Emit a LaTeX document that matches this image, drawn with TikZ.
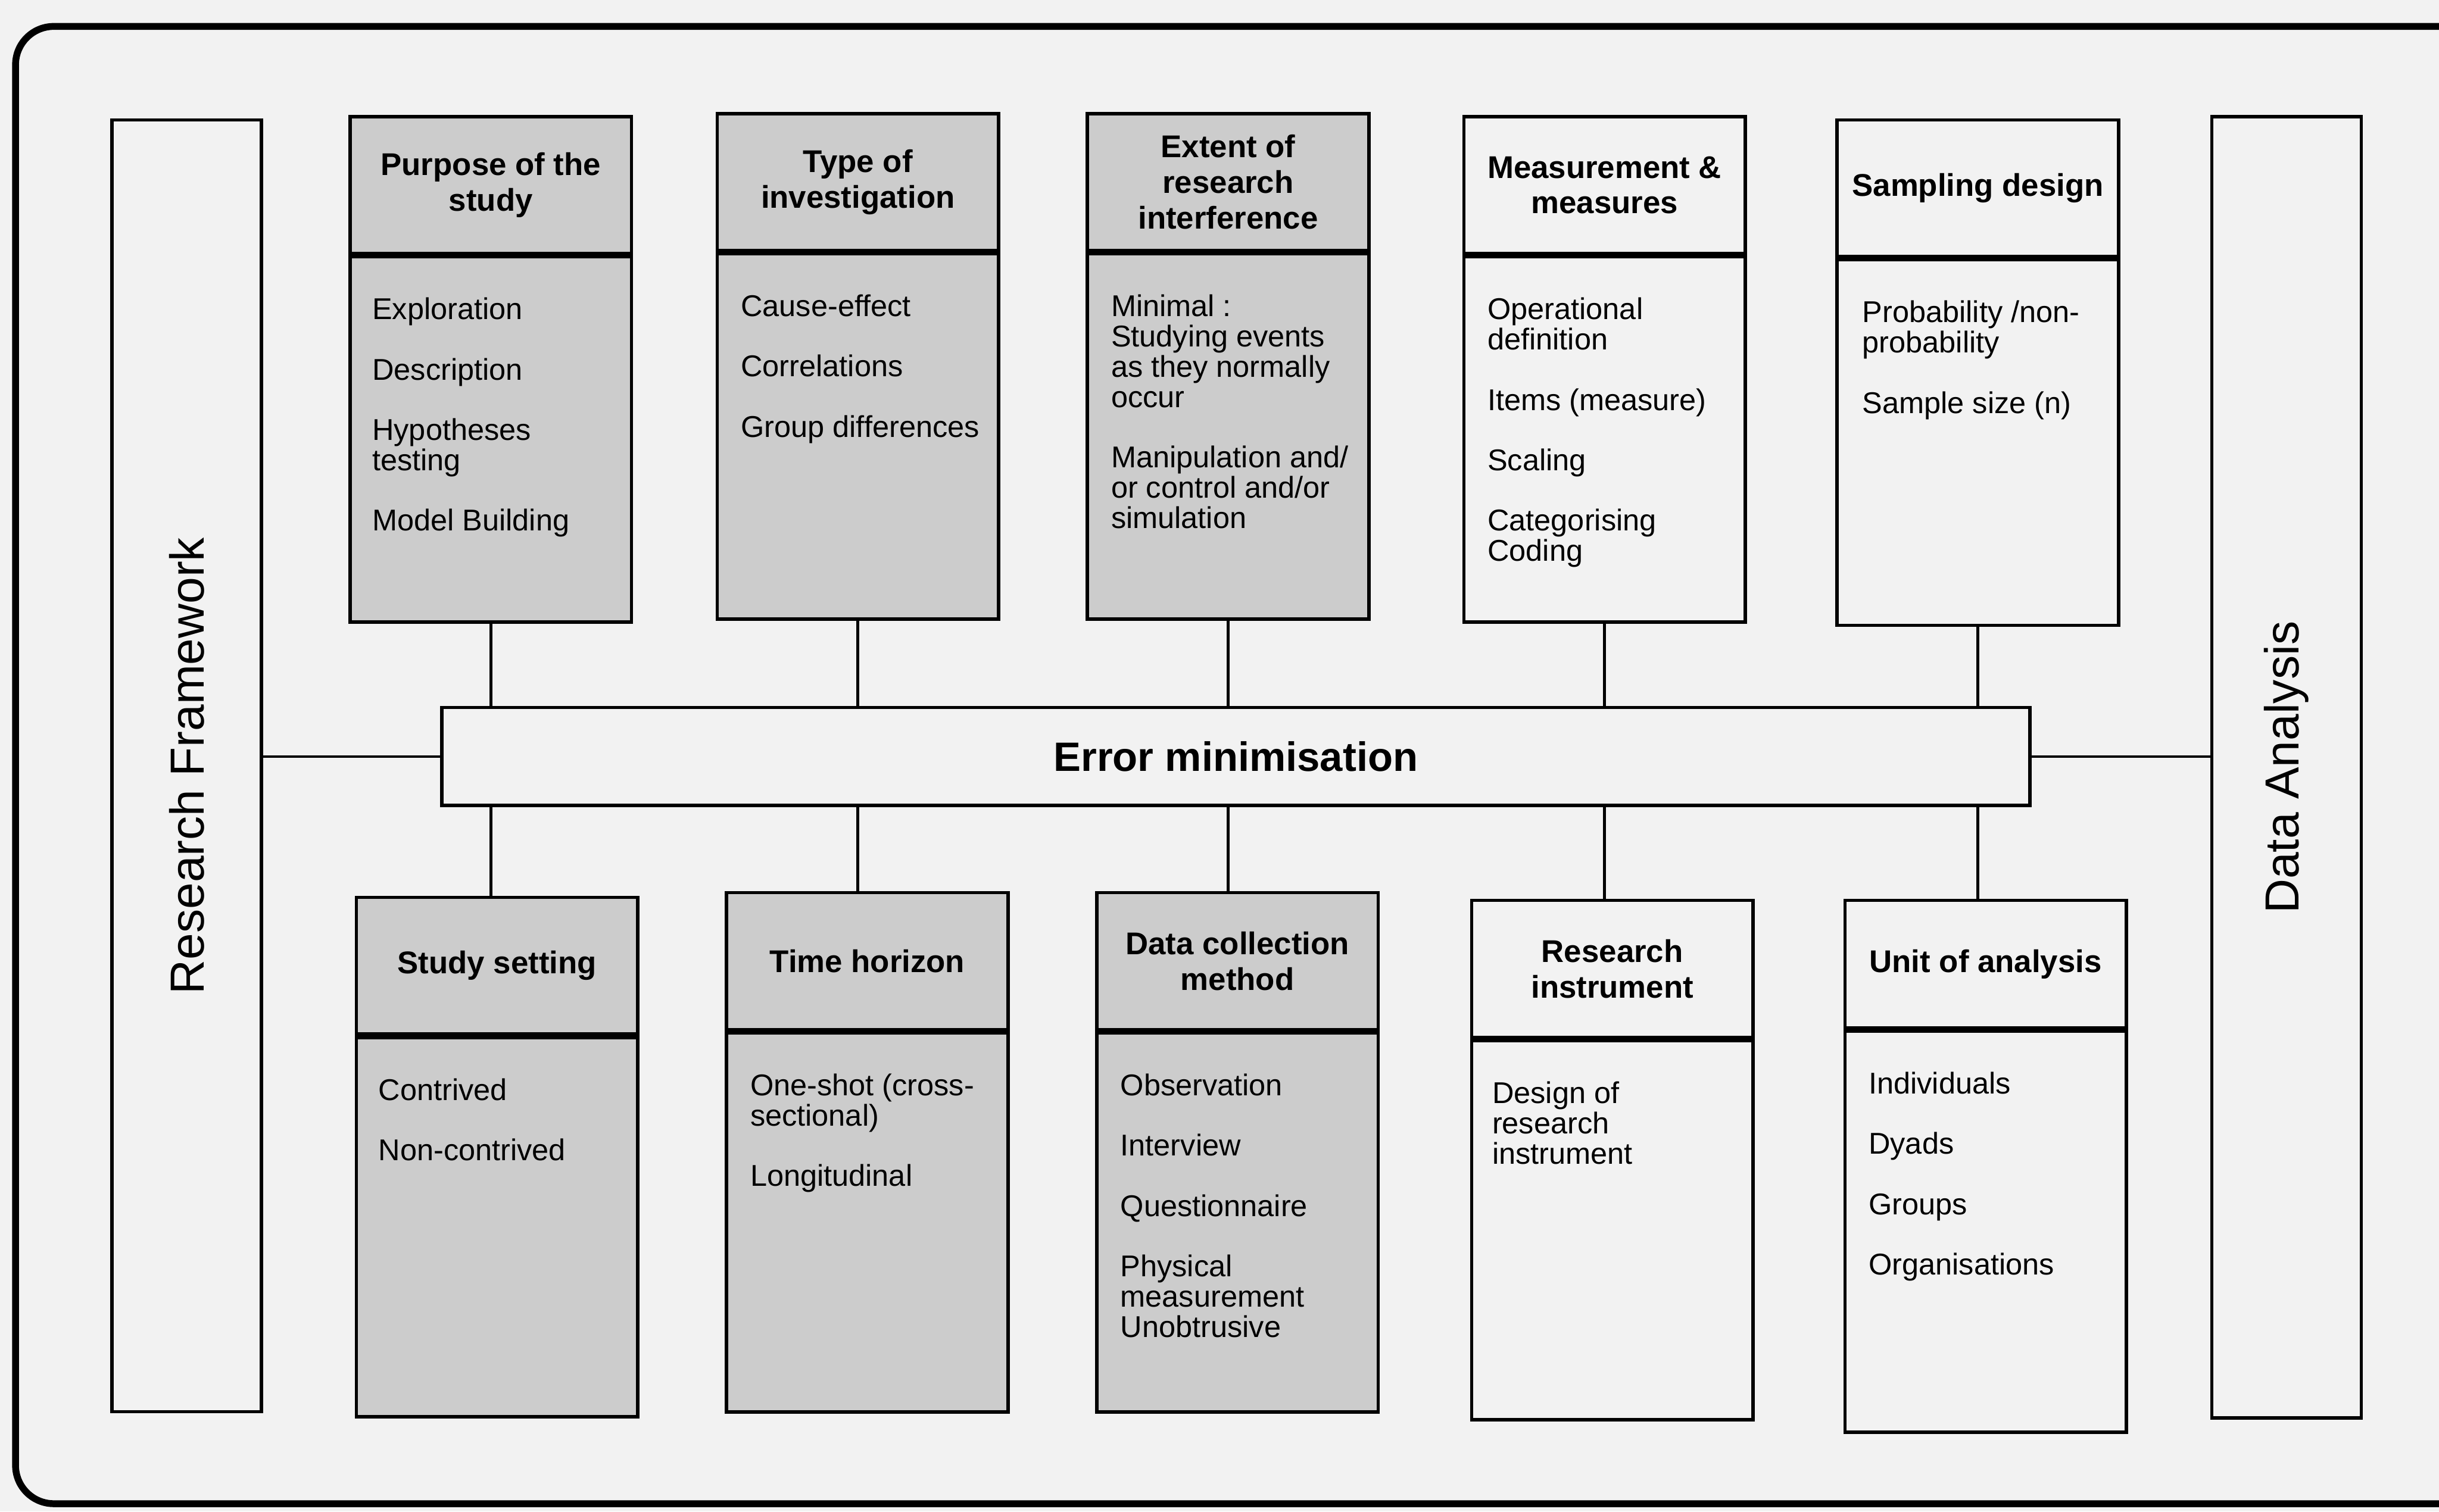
\documentclass[tikz,border=0pt]{standalone}
\usepackage{fontspec}
\setmainfont{Liberation Sans}
\usetikzlibrary{positioning}
\definecolor{paper}{gray}{0.95}
\definecolor{shade}{gray}{0.80}
\tikzset{
  part/.style={draw, line width=1.2pt, minimum width=3.62cm, inner sep=0pt},
  head/.style={part, minimum height=1.76cm, align=center, font=\fontsize{11.5}{13}\selectfont\bfseries},
  body/.style={part, minimum height=4.7cm},
  lowbody/.style={part, minimum height=4.88cm},
  items/.style={anchor=north west, inner sep=0pt, align=left, font=\fontsize{11}{11.1}\selectfont},
  side/.style={draw, line width=1.2pt, minimum width=1.92cm, minimum height=16.62cm, fill=paper},
  sidetext/.style={rotate=90, font=\fontsize{17.5}{20}\selectfont},
  link/.style={line width=1pt}
}
\begin{document}
\begin{tikzpicture}[x=0.02cm, y=-0.02cm]
\clip (0,0) rectangle (1568,972);
\fill[paper] (0,0) rectangle (1568,972);
\draw[line width=2.5pt, rounded corners=14pt] (10,17) rectangle (1600,967);

\node[side] (rf) at (120,492.5) {};
\node[sidetext] (rfT) at (rf.center) {Research Framework};
\node[side, minimum height=16.74cm] (da) at (1470,493.5) {};
\node[sidetext] (daT) at (da.center) {Data Analysis};

\node[draw, line width=1.2pt, fill=paper, minimum width=20.42cm, minimum height=1.26cm, font=\fontsize{15}{18}\selectfont\bfseries] (err) at (794.5,486.5) {Error minimisation};

\node[head, fill=shade, anchor=north west] (purH) at (224,74) {Purpose of the\\study};
\node[body, fill=shade, anchor=north] (purB) at (purH.south) {};
\node[items] (purT) at ([xshift=0.3cm, yshift=-0.54cm]purB.north west) {Exploration\\[11pt]Description\\[11pt]Hypotheses\\testing\\[11pt]Model Building};

\node[head, fill=shade, anchor=north west] (typH) at (460,72) {Type of\\investigation};
\node[body, fill=shade, anchor=north] (typB) at (typH.south) {};
\node[items] (typT) at ([xshift=0.32cm, yshift=-0.54cm]typB.north west) {Cause-effect\\[11pt]Correlations\\[11pt]Group differences};

\node[head, fill=shade, anchor=north west] (extH) at (698,72) {Extent of\\research\\interference};
\node[body, fill=shade, anchor=north] (extB) at (extH.south) {};
\node[items] (extT) at ([xshift=0.32cm, yshift=-0.54cm]extB.north west) {Minimal :\\Studying events\\as they normally\\occur\\[11pt]Manipulation and/\\or control and/or\\simulation};

\node[head, anchor=north west] (meaH) at (940,74) {Measurement \&\\measures};
\node[body, anchor=north] (meaB) at (meaH.south) {};
\node[items] (meaT) at ([xshift=0.32cm, yshift=-0.54cm]meaB.north west) {Operational\\definition\\[11pt]Items (measure)\\[11pt]Scaling\\[11pt]Categorising\\Coding};

\node[head, anchor=north west] (samH) at (1180,76) {Sampling design};
\node[body, anchor=north] (samB) at (samH.south) {};
\node[items] (samT) at ([xshift=0.34cm, yshift=-0.54cm]samB.north west) {Probability /non-\\probability\\[11pt]Sample size (n)};

\node[head, fill=shade, anchor=north west] (stsH) at (228,576) {Study setting};
\node[lowbody, fill=shade, anchor=north] (stsB) at (stsH.south) {};
\node[items] (stsT) at ([xshift=0.3cm, yshift=-0.54cm]stsB.north west) {Contrived\\[11pt]Non-contrived};

\node[head, fill=shade, anchor=north west] (timH) at (466,573) {Time horizon};
\node[lowbody, fill=shade, anchor=north] (timB) at (timH.south) {};
\node[items] (timT) at ([xshift=0.32cm, yshift=-0.54cm]timB.north west) {One-shot (cross-\\sectional)\\[11pt]Longitudinal};

\node[head, fill=shade, anchor=north west] (datH) at (704,573) {Data collection\\method};
\node[lowbody, fill=shade, anchor=north] (datB) at (datH.south) {};
\node[items] (datT) at ([xshift=0.32cm, yshift=-0.54cm]datB.north west) {Observation\\[11pt]Interview\\[11pt]Questionnaire\\[11pt]Physical\\measurement\\Unobtrusive};

\node[head, anchor=north west] (insH) at (945,578) {Research\\instrument};
\node[lowbody, anchor=north] (insB) at (insH.south) {};
\node[items] (insT) at ([xshift=0.28cm, yshift=-0.54cm]insB.north west) {Design of\\research\\instrument};

\node[head, minimum height=1.64cm, anchor=north west] (uniH) at (1185,578) {Unit of analysis};
\node[part, minimum height=5.16cm, anchor=north] (uniB) at (uniH.south) {};
\node[items] (uniT) at ([xshift=0.32cm, yshift=-0.54cm]uniB.north west) {Individuals\\[11pt]Dyads\\[11pt]Groups\\[11pt]Organisations};

\draw[link] (purB.south) -- (purB.south |- err.north);
\draw[link] (typB.south) -- (typB.south |- err.north);
\draw[link] (extB.south) -- (extB.south |- err.north);
\draw[link] (meaB.south) -- (meaB.south |- err.north);
\draw[link] (samB.south) -- (samB.south |- err.north);
\draw[link] (err.south -| purB.south) -- (stsH.north -| purB.south);
\draw[link] (err.south -| typB.south) -- (timH.north -| typB.south);
\draw[link] (err.south -| extB.south) -- (datH.north -| extB.south);
\draw[link] (err.south -| meaB.south) -- (insH.north -| meaB.south);
\draw[link] (err.south -| samB.south) -- (uniH.north -| samB.south);
\draw[link] (rf.east |- err.west) -- (err.west);
\draw[link] (err.east) -- (err.east -| da.west);
\end{tikzpicture}
\end{document}
